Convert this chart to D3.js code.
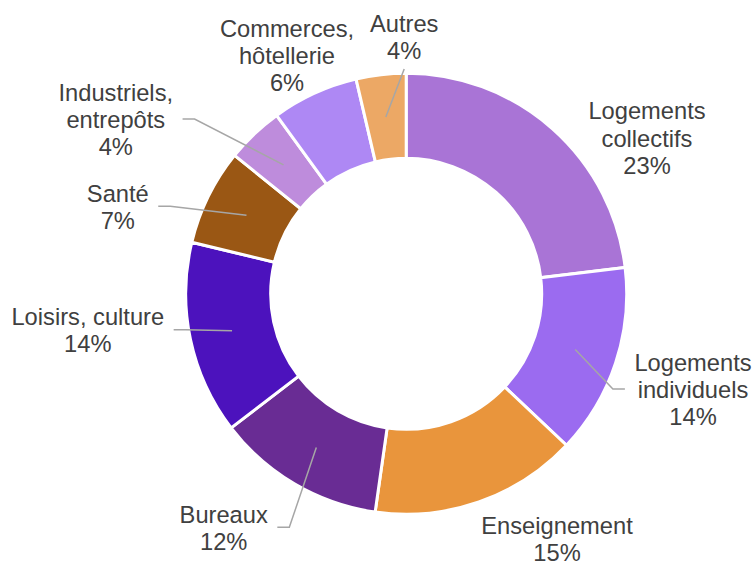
<!DOCTYPE html>
<html><head><meta charset="utf-8">
<script src="https://cdn.jsdelivr.net/npm/d3@7"></script>
<style>html,body{margin:0;padding:0;background:#fff;} svg{display:block;}</style>
</head><body>
<svg id="chart" width="754" height="563"></svg>
<script>
// ---- data ----
const categories = ["Logements collectifs","Logements individuels","Enseignement","Bureaux","Loisirs, culture","Santé","Industriels, entrepôts","Commerces, hôtellerie","Autres"];
const labelLines = [["Logements","collectifs"],["Logements","individuels"],["Enseignement"],["Bureaux"],["Loisirs, culture"],["Santé"],["Industriels,","entrepôts"],["Commerces,","hôtellerie"],["Autres"]];
const shares = [23.1, 13.95, 15.2, 12.35, 14.15, 7.05, 4.2, 6.35, 3.65];
const colors = ["#A974D6","#9B6BF0","#E9953C","#692C94","#4C12BD","#9A5714","#BE8CDC","#AE88F4","#ECA865"];

// ---- layout (label anchors: centre x, first baseline) ----
const labelAt = [[647,119.3],[693,370.7],[557,534],[223.7,522.7],[87.8,325],[117.8,201.7],[115.8,100.7],[287,36.7],[404.2,31.7]];
// where the leader line attaches to the label: none, left edge, right edge, bottom
const leaderAttach = ["none","leftEdge","none","rightEdge","rightEdge","rightEdge","rightEdge","none","bottom"];

const cx = 406.2, cy = 293.8, rOuter = 220.5, rInner = 135.5;
const fontSize = 23.7, lineH = 27.3;

const svg = d3.select("#chart");
const g = svg.append("g").attr("transform", `translate(${cx},${cy})`);
const leaders = svg.append("g");
const labels = svg.append("g").attr("font-family","'Liberation Sans', Arial, sans-serif")
  .attr("font-size", fontSize).attr("fill","#404040").attr("text-anchor","middle");

const data = categories.map((c,i)=>({name:c, value:shares[i], lines:labelLines[i], color:colors[i], i}));
const pie = d3.pie().value(d=>d.value).sort(null).startAngle(0).endAngle(2*Math.PI);
const arcs = pie(data);
const arc = d3.arc().innerRadius(rInner).outerRadius(rOuter);

g.selectAll("path.slice").data(arcs).enter().append("path")
  .attr("class","slice")
  .attr("d", arc)
  .attr("fill", d=>d.data.color)
  .attr("stroke","#fff")
  .attr("stroke-width",3)
  .attr("stroke-linejoin","miter");

arcs.forEach((a, i) => {
  const [lx, ly] = labelAt[i];
  const lines = a.data.lines.concat([Math.round(a.data.value) + "%"]);
  const t = labels.append("text");
  lines.forEach((s, k) => {
    t.append("tspan").attr("x", lx).attr("y", ly + k*lineH).text(s);
  });
  const mode = leaderAttach[i];
  if (mode === "none") return;
  let maxW = 0;
  t.selectAll("tspan").each(function(){ maxW = Math.max(maxW, this.getComputedTextLength()); });
  const [sx, sy] = arc.centroid(a);
  const start = [cx + sx, cy + sy];
  const lastB = ly + (lines.length-1)*lineH;
  const midY = (ly + lastB)/2 - 9;
  let pts;
  if (mode === "rightEdge") {
    const ex = lx + maxW/2 + 9.5;
    pts = [start, [ex + 12, midY], [ex, midY]];
  } else if (mode === "leftEdge") {
    const ex = lx - maxW/2 - 9.5;
    pts = [start, [ex - 12, midY], [ex, midY]];
  } else {
    pts = [start, [lx, lastB + 10]];
  }
  leaders.append("path")
    .attr("d", d3.line()(pts))
    .attr("fill","none")
    .attr("stroke","#A6A6A6")
    .attr("stroke-width",1.5);
});
</script>
</body></html>
